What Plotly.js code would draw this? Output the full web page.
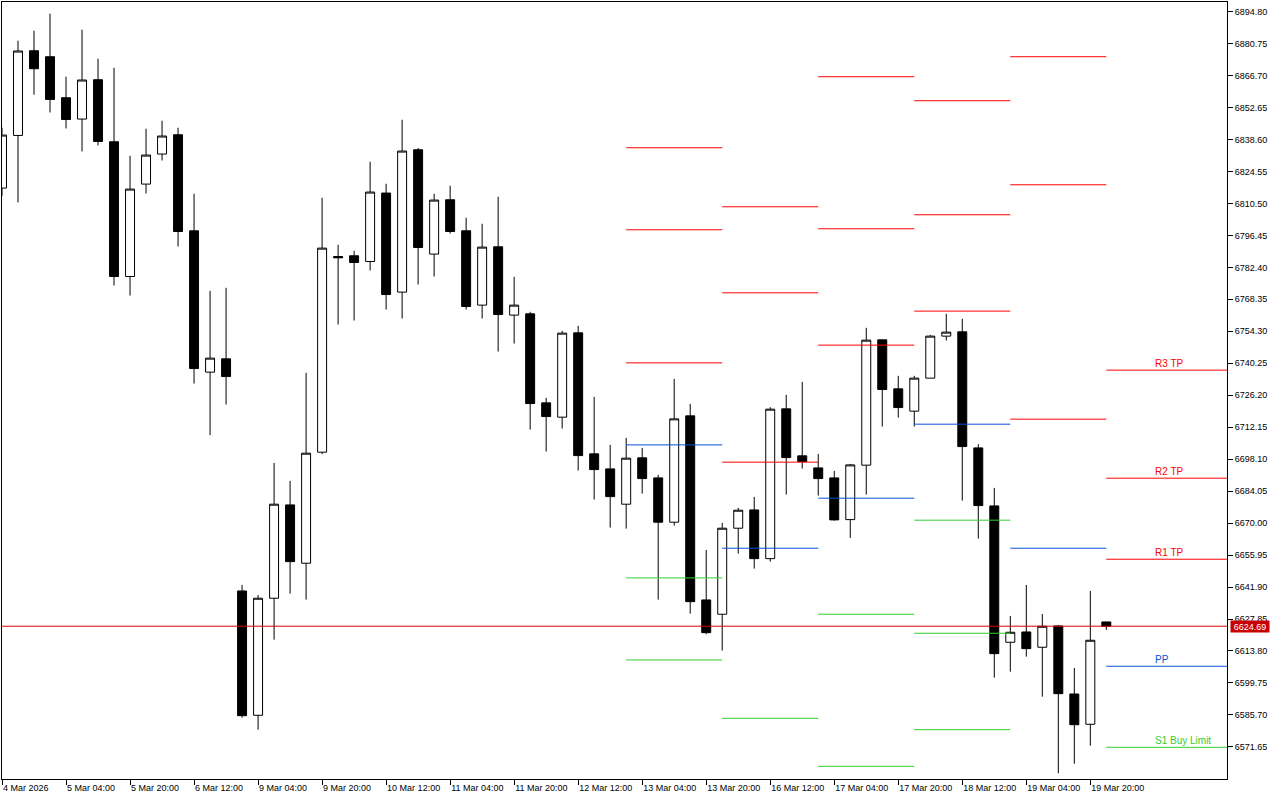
<!DOCTYPE html>
<html>
<head>
<meta charset="utf-8">
<script src="https://cdn.plot.ly/plotly-3.0.1.min.js"></script>
<style>
html,body{margin:0;padding:0;background:#ffffff;}
#chart{width:1280px;height:800px;}
</style>
</head>
<body>
<div id="chart"></div>
<script>
// ---- bar times (H4) ----
const barTimes = [
 '4 Mar 12:00','4 Mar 16:00','4 Mar 20:00',
 '5 Mar 00:00','5 Mar 04:00','5 Mar 08:00','5 Mar 12:00','5 Mar 16:00','5 Mar 20:00',
 '6 Mar 00:00','6 Mar 04:00','6 Mar 08:00','6 Mar 12:00','6 Mar 16:00','6 Mar 20:00',
 '9 Mar 00:00','9 Mar 04:00','9 Mar 08:00','9 Mar 12:00','9 Mar 16:00','9 Mar 20:00',
 '10 Mar 00:00','10 Mar 04:00','10 Mar 08:00','10 Mar 12:00','10 Mar 16:00','10 Mar 20:00',
 '11 Mar 00:00','11 Mar 04:00','11 Mar 08:00','11 Mar 12:00','11 Mar 16:00','11 Mar 20:00',
 '12 Mar 00:00','12 Mar 04:00','12 Mar 08:00','12 Mar 12:00','12 Mar 16:00','12 Mar 20:00',
 '13 Mar 00:00','13 Mar 04:00','13 Mar 08:00','13 Mar 12:00','13 Mar 16:00','13 Mar 20:00',
 '16 Mar 00:00','16 Mar 04:00','16 Mar 08:00','16 Mar 12:00','16 Mar 16:00','16 Mar 20:00',
 '17 Mar 00:00','17 Mar 04:00','17 Mar 08:00','17 Mar 12:00','17 Mar 16:00','17 Mar 20:00',
 '18 Mar 00:00','18 Mar 04:00','18 Mar 08:00','18 Mar 12:00','18 Mar 16:00','18 Mar 20:00',
 '19 Mar 00:00','19 Mar 04:00','19 Mar 08:00','19 Mar 12:00','19 Mar 16:00','19 Mar 20:00',
 '20 Mar 00:00'
];

const openP = [
 6817.24,6840.37,6877.61,6874.97,6856.95,6847.58,6864.86,6837.60,6778.38,6819.00,
 6832.19,6840.68,6798.47,6736.35,6742.19,6640.19,6585.55,6636.98,6678.00,6652.37,
 6701.17,6787.17,6787.48,6784.97,6815.05,6771.52,6834.08,6788.23,6812.10,6798.47,
 6765.80,6791.44,6761.41,6761.98,6722.85,6716.56,6753.63,6700.43,6693.83,6678.31,
 6698.67,6689.87,6670.40,6717.13,6636.24,6629.95,6667.76,6675.80,6654.39,6720.21,
 6699.55,6694.27,6689.87,6671.54,6695.46,6750.55,6729.00,6719.20,6733.71,6752.17,
 6754.07,6703.06,6677.56,6617.64,6622.16,6615.44,6624.80,6594.91,6581.59,6626.56
];
const highP = [
 6843.76,6882.01,6886.40,6893.88,6866.18,6886.84,6874.09,6870.13,6831.44,6843.32,
 6846.83,6843.76,6814.74,6772.09,6773.41,6642.83,6638.43,6696.47,6688.55,6736.04,
 6812.98,6792.32,6789.68,6828.81,6819.13,6847.27,6834.83,6814.74,6818.26,6804.19,
 6801.55,6813.42,6778.25,6762.86,6725.05,6754.50,6756.70,6725.49,6704.38,6707.46,
 6703.06,6691.19,6733.40,6722.41,6658.22,6670.09,6676.68,6681.52,6720.96,6726.37,
 6732.08,6700.43,6692.95,6696.03,6755.82,6750.55,6734.72,6734.72,6752.75,6761.98,
 6759.78,6704.69,6685.48,6629.20,6642.83,6630.08,6625.24,6606.34,6640.19,6626.56
];
const lowP = [
 6813.86,6810.91,6858.26,6850.48,6843.45,6833.34,6835.97,6774.42,6770.02,6814.87,
 6829.38,6791.57,6731.33,6708.65,6722.10,6584.49,6579.21,6618.78,6639.01,6636.37,
 6700.29,6757.27,6759.03,6781.02,6763.87,6759.91,6774.86,6778.38,6797.28,6763.87,
 6759.91,6745.40,6748.92,6711.11,6701.44,6711.55,6693.08,6680.34,6668.02,6667.58,
 6682.97,6636.37,6668.90,6630.21,6621.16,6613.95,6656.59,6650.00,6653.08,6682.53,
 6693.96,6682.09,6671.10,6663.49,6682.53,6712.43,6716.39,6712.43,6733.71,6750.24,
 6679.89,6663.19,6602.07,6604.71,6611.31,6593.72,6560.04,6564.26,6572.18,6623.05
];
const closeP = [
 6840.55,6877.48,6869.70,6856.20,6847.40,6864.73,6837.73,6778.38,6816.80,6831.75,
 6840.11,6798.16,6737.93,6742.50,6734.41,6585.37,6636.98,6678.31,6653.08,6700.73,
 6790.86,6786.60,6784.53,6815.49,6770.46,6833.51,6791.13,6811.97,6798.16,6765.19,
 6791.30,6761.67,6765.80,6722.54,6716.83,6753.49,6699.68,6693.52,6681.65,6698.54,
 6689.57,6670.40,6715.81,6635.49,6621.86,6667.76,6675.67,6654.39,6720.08,6698.80,
 6697.04,6689.57,6671.41,6695.59,6750.41,6728.70,6720.78,6733.71,6752.17,6753.93,
 6703.64,6677.70,6612.63,6622.03,6614.83,6624.67,6595.04,6581.41,6618.52,6624.69
];

// ---- daily pivot levels (one entry per session) ----
const pivotDays = ['13 Mar','16 Mar','17 Mar','18 Mar','19 Mar','20 Mar'];
const levelR3 = [6834.96, 6809.02, 6866.18, 6855.63, 6874.97, 6737.23];
const levelR2 = [6798.91, 6771.21, 6799.35, 6805.51, 6818.69, 6689.74];
const levelR1 = [6740.43, 6696.78, 6748.22, 6763.17, 6715.68, 6654.13];
const levelPP = [6704.38, 6658.97, 6680.95, 6713.48, 6658.97, 6607.09];
const levelS1 = [6645.91, 6584.22, 6629.95, 6671.28, null,    6571.47];
const levelS2 = [6609.86, null,    6563.12, 6621.59, null,    null];
const levelS3 = [null,    null,    null,    6579.21, null,    null];

const currentLabels = ['R3 TP','R2 TP','R1 TP','PP','S1 Buy Limit'];

// ---- axis ticks ----
const yTicks = [6894.80,6880.75,6866.70,6852.65,6838.60,6824.55,6810.50,6796.45,6782.40,6768.35,
 6754.30,6740.25,6726.20,6712.15,6698.10,6684.05,6670.00,6655.95,6641.90,6627.85,6613.80,6599.75,6585.70,6571.65];
const xTickLabels = ['4 Mar 2026','5 Mar 04:00','5 Mar 20:00','6 Mar 12:00','9 Mar 04:00','9 Mar 20:00',
 '10 Mar 12:00','11 Mar 04:00','11 Mar 20:00','12 Mar 12:00','13 Mar 04:00','13 Mar 20:00',
 '16 Mar 12:00','17 Mar 04:00','17 Mar 20:00','18 Mar 12:00','19 Mar 04:00','19 Mar 20:00'];
const xTickTimes = ['4 Mar 12:00','5 Mar 04:00','5 Mar 20:00','6 Mar 12:00','9 Mar 04:00','9 Mar 20:00',
 '10 Mar 12:00','11 Mar 04:00','11 Mar 20:00','12 Mar 12:00','13 Mar 04:00','13 Mar 20:00',
 '16 Mar 12:00','17 Mar 04:00','17 Mar 20:00','18 Mar 12:00','19 Mar 04:00','19 Mar 20:00'];

// ---- build ----
const xIdx = barTimes.map((t, i) => i);
const X_MAX = 76.54;
const lastPrice = closeP[closeP.length - 1];

const segStart = pivotDays.map(d => barTimes.indexOf(d + ' 00:00'));
const segEnd = segStart.map((s, k) => k < segStart.length - 1 ? segStart[k + 1] : X_MAX + 5);

function levelTrace(vals, color) {
  const xs = [], ys = [];
  vals.forEach((v, k) => {
    if (v === null) return;
    xs.push(segStart[k], segEnd[k], null);
    ys.push(v, v, null);
  });
  return {type: 'scatter', mode: 'lines', x: xs, y: ys, hoverinfo: 'skip',
          line: {color: color, width: 1}, showlegend: false, connectgaps: false};
}

const RED = '#ff0000', BLUE = '#0a50dc', GREEN = '#32cd32';

const traces = [
  {
    type: 'candlestick', x: xIdx, open: openP, high: highP, low: lowP, close: closeP,
    increasing: {line: {color: '#000000', width: 1}, fillcolor: '#ffffff'},
    decreasing: {line: {color: '#000000', width: 1}, fillcolor: '#000000'},
    whiskerwidth: 0, hoverinfo: 'skip', showlegend: false
  },
  levelTrace(levelR3, RED), levelTrace(levelR2, RED), levelTrace(levelR1, RED),
  levelTrace(levelPP, BLUE),
  levelTrace(levelS1, GREEN), levelTrace(levelS2, GREEN), levelTrace(levelS3, GREEN),
  {type: 'scatter', mode: 'lines', x: [-5, X_MAX + 5], y: [lastPrice, lastPrice],
   line: {color: '#e00000', width: 1}, hoverinfo: 'skip', showlegend: false}
];

const lastSeg = pivotDays.length - 1;
const curLevels = [levelR3[lastSeg], levelR2[lastSeg], levelR1[lastSeg], levelPP[lastSeg], levelS1[lastSeg]];
const curColors = [RED, RED, RED, BLUE, GREEN];
const annotations = curLevels.map((v, k) => ({
  x: segStart[lastSeg] + 2.95, y: v, xref: 'x', yref: 'y',
  xanchor: 'left', yanchor: 'bottom', showarrow: false, borderpad: 0,
  text: currentLabels[k], font: {family: 'Liberation Sans, Arial, sans-serif', size: 10, color: curColors[k]}
}));
annotations.push({
  x: 1, xref: 'paper', y: lastPrice, yref: 'y', xanchor: 'left', yanchor: 'middle',
  xshift: 3, showarrow: false, text: lastPrice.toFixed(2), bgcolor: '#c80000',
  borderpad: 0, width: 38, height: 11,
  font: {family: 'Liberation Sans, Arial, sans-serif', size: 9, color: '#ffffff'}
});

const layout = {
  width: 1280, height: 800, autosize: false,
  paper_bgcolor: '#ffffff', plot_bgcolor: '#ffffff',
  margin: {l: 2, r: 53, t: 2, b: 21, pad: 0},
  showlegend: false, hovermode: false,
  boxgap: 0.3, boxgroupgap: 0.2,
  font: {family: 'Liberation Sans, Arial, sans-serif', size: 9, color: '#000000'},
  xaxis: {
    range: [0, X_MAX], type: 'linear', rangeslider: {visible: false},
    showgrid: false, zeroline: false, showline: true, linecolor: '#000000', linewidth: 1, mirror: true,
    ticks: 'outside', ticklen: 5, tickcolor: '#000000', tickwidth: 1,
    tickmode: 'array', tickvals: xTickTimes.map(t => barTimes.indexOf(t)), ticktext: xTickLabels,
    ticklabelposition: 'outside right',
    tickfont: {family: 'Liberation Sans, Arial, sans-serif', size: 9, color: '#000000'},
    fixedrange: true
  },
  yaxis: {
    range: [6557.54, 6899.02], side: 'right',
    showgrid: false, zeroline: false, showline: true, linecolor: '#000000', linewidth: 1, mirror: true,
    ticks: 'outside', ticklen: 5, tickcolor: '#000000', tickwidth: 1,
    tickmode: 'array', tickvals: yTicks, ticktext: yTicks.map(v => v.toFixed(2)),
    tickfont: {family: 'Liberation Sans, Arial, sans-serif', size: 9, color: '#000000'},
    fixedrange: true
  },
  annotations: annotations
};

Plotly.newPlot('chart', traces, layout, {displayModeBar: false, staticPlot: true});
</script>
</body>
</html>
